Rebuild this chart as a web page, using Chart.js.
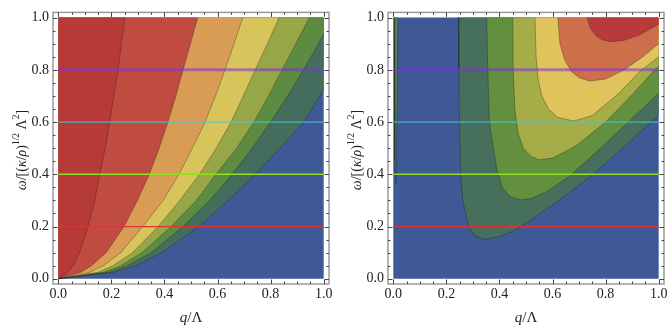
<!DOCTYPE html>
<html lang="en">
<head>
<meta charset="UTF-8">
<title>Contour panels</title>
<script src="https://cdn.jsdelivr.net/npm/chart.js"></script>
<style>
  body { margin: 0; background: #fff; }
  .row { display: flex; width: 672px; height: 327px; }
  .panel { width: 336px; height: 327px; }
</style>
</head>
<body>
<div class="row">
  <div class="panel"><canvas id="left" width="336" height="327"></canvas></div>
  <div class="panel"><canvas id="right" width="336" height="327"></canvas></div>
</div>
<script>
// axis ticks
const tickValues = [0, 0.2, 0.4, 0.6, 0.8, 1.0];
const refLevels = [0.2, 0.4, 0.6, 0.8];
const refColors = ['#dc3434', '#8fe01e', '#4ec5cf', 'rgba(130,50,210,0.55)'];
const refWidths = [1.2, 1.5, 1, 3];

// left panel: contour boundaries [q, omega], from the origin outwards
const leftThin = [[0,0],[0.036,0.025],[0.055,0.05],[0.08,0.1],[0.112,0.2],[0.137,0.3],[0.156,0.4],[0.177,0.5],[0.194,0.6],[0.209,0.7],[0.225,0.8],[0.238,0.9],[0.251,1]];
const leftRedOrange = [[0,0],[0.085,0.025],[0.125,0.05],[0.18,0.1],[0.248,0.2],[0.298,0.3],[0.343,0.4],[0.38,0.5],[0.413,0.6],[0.443,0.7],[0.47,0.8],[0.498,0.9],[0.525,1]];
const leftOrangeYellow = [[0,0],[0.12,0.025],[0.17,0.05],[0.235,0.1],[0.318,0.2],[0.395,0.3],[0.455,0.4],[0.505,0.5],[0.553,0.6],[0.592,0.7],[0.628,0.8],[0.662,0.9],[0.695,1]];
const leftYellowLime = [[0,0],[0.15,0.025],[0.205,0.05],[0.28,0.1],[0.376,0.2],[0.458,0.3],[0.532,0.4],[0.595,0.5],[0.651,0.6],[0.697,0.7],[0.742,0.8],[0.788,0.9],[0.832,1]];
const leftLimeGreen = [[0,0],[0.17,0.025],[0.235,0.05],[0.315,0.1],[0.425,0.2],[0.52,0.3],[0.594,0.4],[0.672,0.5],[0.737,0.6],[0.792,0.7],[0.843,0.8],[0.895,0.9],[0.946,1]];
const leftGreenTeal = [[0,0],[0.19,0.025],[0.26,0.05],[0.35,0.1],[0.47,0.2],[0.57,0.3],[0.655,0.4],[0.73,0.5],[0.8,0.6],[0.864,0.7],[0.924,0.8],[0.98,0.9],[1,0.937]];
const leftTealBlue = [[0,0],[0.21,0.025],[0.29,0.05],[0.39,0.1],[0.53,0.2],[0.64,0.3],[0.742,0.4],[0.835,0.5],[0.925,0.6],[0.985,0.7],[1,0.723]];

// right panel: U-shaped boundaries, from the top edge down and back up
const rightTealBlue = [[0.245,1],[0.247,0.8],[0.249,0.6],[0.254,0.4],[0.262,0.3],[0.283,0.2],[0.31,0.163],[0.345,0.151],[0.4,0.162],[0.45,0.182],[0.503,0.214],[0.6,0.283],[0.68,0.343],[0.755,0.403],[0.868,0.503],[1,0.629]];
const rightGreenTeal = [[0.352,1],[0.356,0.8],[0.362,0.6],[0.377,0.5],[0.39,0.42],[0.41,0.35],[0.44,0.315],[0.48,0.302],[0.52,0.307],[0.58,0.335],[0.667,0.395],[0.77,0.49],[0.88,0.595],[1,0.71]];
const rightLimeGreen = [[0.45,1],[0.452,0.8],[0.458,0.65],[0.47,0.56],[0.49,0.5],[0.52,0.468],[0.55,0.456],[0.6,0.462],[0.69,0.51],[0.8,0.6],[0.9,0.705],[0.98,0.795],[1,0.815]];
const rightYellowLime = [[0.534,1],[0.538,0.85],[0.546,0.76],[0.56,0.7],[0.585,0.65],[0.62,0.618],[0.68,0.604],[0.75,0.625],[0.85,0.71],[0.93,0.795],[1,0.85]];
const rightOrangeYellow = [[0.62,1],[0.628,0.9],[0.645,0.84],[0.67,0.795],[0.7,0.77],[0.74,0.757],[0.8,0.765],[0.87,0.8],[0.94,0.85],[1,0.9]];
const rightRedOrange = [[0.73,1],[0.742,0.96],[0.765,0.93],[0.79,0.914],[0.82,0.908],[0.87,0.913],[0.93,0.935],[1,0.975]];
const rightSliverTeal = [[0.003,1],[0.004,0.7],[0.006,0.45],[0.009,0.365],[0.012,0.45],[0.015,0.7],[0.018,1]];
const rightSliverGreen = [[0.007,1],[0.008,0.8],[0.0105,0.6],[0.012,0.8],[0.013,1]];

const leftColors = ['#3f5896', '#436d5c', '#5d8b42', '#97a748', '#d7c55b', '#d99c55', '#bf4b41', '#b63a37'];
const rightColors = ['#3f5896', '#466f5c', '#62903f', '#a5ad48', '#e0c35b', '#cd6f4a', '#b93a3b'];

const serif = '"Liberation Serif", "Times New Roman", serif';
const edgeLine = 'rgba(25,25,25,0.4)';

const toPts = curve => curve.map(([q, w]) => ({ x: q, y: w }));

// filled region, no outline (outline would split the fill into pieces)
function area(pts, color, order) {
  return {
    data: pts, order, backgroundColor: color, fill: 'shape',
    borderWidth: 0, borderColor: 'transparent', pointRadius: 0, tension: 0
  };
}

// thin contour line drawn over the fills
function contour(curve) {
  return {
    data: toPts(curve), order: 5, fill: false,
    borderColor: edgeLine, borderWidth: 0.8, pointRadius: 0, tension: 0
  };
}

// region to the upper left of a curve starting at the origin
function leftRegion(curve) {
  const pts = toPts(curve);
  if (curve[curve.length - 1][1] < 1) pts.push({ x: 1, y: 1 });
  pts.push({ x: 0, y: 1 });
  return pts;
}

// region inside a U-shaped curve that opens to the top/right
function innerRegion(curve) {
  const pts = toPts(curve);
  if (curve[curve.length - 1][1] < 1) pts.push({ x: 1, y: 1 });
  return pts;
}

const square = [{ x: 0, y: 0 }, { x: 1, y: 0 }, { x: 1, y: 1 }, { x: 0, y: 1 }];

function refLines() {
  return refLevels.map((lv, i) => ({
    data: [{ x: 0, y: lv }, { x: 1, y: lv }],
    borderColor: refColors[i], borderWidth: refWidths[i],
    fill: false, pointRadius: 0, order: 0
  }));
}

const framePlugin = {
  id: 'frame',
  afterDatasetsDraw(chart) {
    const { ctx, chartArea: a, scales } = chart;
    ctx.save();
    ctx.strokeStyle = '#9a9a9a';
    ctx.lineWidth = 1.5;
    ctx.strokeRect(a.left, a.top, a.right - a.left, a.bottom - a.top);
    ctx.strokeStyle = '#444';
    ctx.lineWidth = 1;
    ctx.beginPath();
    for (let k = 0; k <= 20; k++) {
      const v = k / 20;
      const len = k % 4 === 0 ? 4.5 : 2.5;
      const x = Math.round(scales.x.getPixelForValue(v)) + 0.5;
      const y = Math.round(scales.y.getPixelForValue(v)) + 0.5;
      ctx.moveTo(x, a.bottom); ctx.lineTo(x, a.bottom - len);
      ctx.moveTo(x, a.top); ctx.lineTo(x, a.top + len);
      ctx.moveTo(a.left, y); ctx.lineTo(a.left + len, y);
      ctx.moveTo(a.right, y); ctx.lineTo(a.right - len, y);
    }
    ctx.stroke();
    ctx.restore();
  }
};

function drawRich(ctx, parts, size) {
  const fontOf = p => (p.it ? 'italic ' : '') + (p.sup ? size * 0.68 : size) + 'px ' + serif;
  let w = 0;
  parts.forEach(p => { ctx.font = fontOf(p); p.w = ctx.measureText(p.t).width; w += p.w; });
  let x = -w / 2;
  parts.forEach(p => {
    ctx.font = fontOf(p);
    ctx.fillText(p.t, x, p.sup ? -size * 0.36 : 0);
    x += p.w;
  });
}

const titlePlugin = {
  id: 'titles',
  afterDraw(chart) {
    const { ctx, chartArea: a } = chart;
    ctx.save();
    ctx.fillStyle = '#222';
    ctx.textBaseline = 'middle';
    ctx.textAlign = 'left';
    ctx.save();
    ctx.translate(a.left - 31, 150);
    ctx.rotate(-Math.PI / 2);
    drawRich(ctx, [
      { t: 'ω', it: true }, { t: '/[(' }, { t: 'κ', it: true }, { t: '/' }, { t: 'ρ', it: true },
      { t: ')' }, { t: '1/2', sup: true }, { t: ' Λ' }, { t: '2', sup: true }, { t: ']' }
    ], 14);
    ctx.restore();
    ctx.translate((a.left + a.right) / 2, 318);
    drawRich(ctx, [{ t: 'q', it: true }, { t: '/Λ' }], 15);
    ctx.restore();
  }
};

function makeChart(id, datasets, yWidth, padRight) {
  const axis = {
    type: 'linear', min: -0.02, max: 1.02,
    grid: { display: false, drawTicks: false }, border: { display: false },
    afterBuildTicks: s => { s.ticks = tickValues.map(v => ({ value: v })); },
    ticks: {
      font: { family: serif, size: 14 }, color: '#222', padding: 4,
      autoSkip: false, maxRotation: 0, callback: v => Number(v).toFixed(1)
    }
  };
  return new Chart(document.getElementById(id), {
    type: 'line',
    data: { datasets },
    options: {
      responsive: false, animation: false, devicePixelRatio: 1, events: [],
      layout: { padding: { left: 0, right: padRight, top: 8, bottom: 0 } },
      plugins: { legend: { display: false }, tooltip: { enabled: false } },
      scales: {
        x: { ...axis, ticks: { ...axis.ticks, padding: 2 }, afterFit: s => { s.height = 43; } },
        y: { ...axis, afterFit: s => { s.width = yWidth; } }
      }
    },
    plugins: [framePlugin, titlePlugin]
  });
}

const leftCurves = [leftTealBlue, leftGreenTeal, leftLimeGreen, leftYellowLime, leftOrangeYellow, leftRedOrange, leftThin];
const leftSets = [area(square, leftColors[0], 30)]
  .concat(leftCurves.map((c, i) => area(leftRegion(c), leftColors[i + 1], 29 - i)))
  .concat(leftCurves.map(contour))
  .concat(refLines());
makeChart('left', leftSets, 53, 7);

const rightCurves = [rightTealBlue, rightGreenTeal, rightLimeGreen, rightYellowLime, rightOrangeYellow, rightRedOrange];
const rightSets = [area(square, rightColors[0], 30)]
  .concat(rightCurves.map((c, i) => area(innerRegion(c), rightColors[i + 1], 29 - i)))
  .concat([area(innerRegion(rightSliverTeal), rightColors[1], 12), area(innerRegion(rightSliverGreen), rightColors[2], 11)])
  .concat(rightCurves.concat([rightSliverTeal]).map(contour))
  .concat(refLines());
makeChart('right', rightSets, 52, 8);
</script>
</body>
</html>
